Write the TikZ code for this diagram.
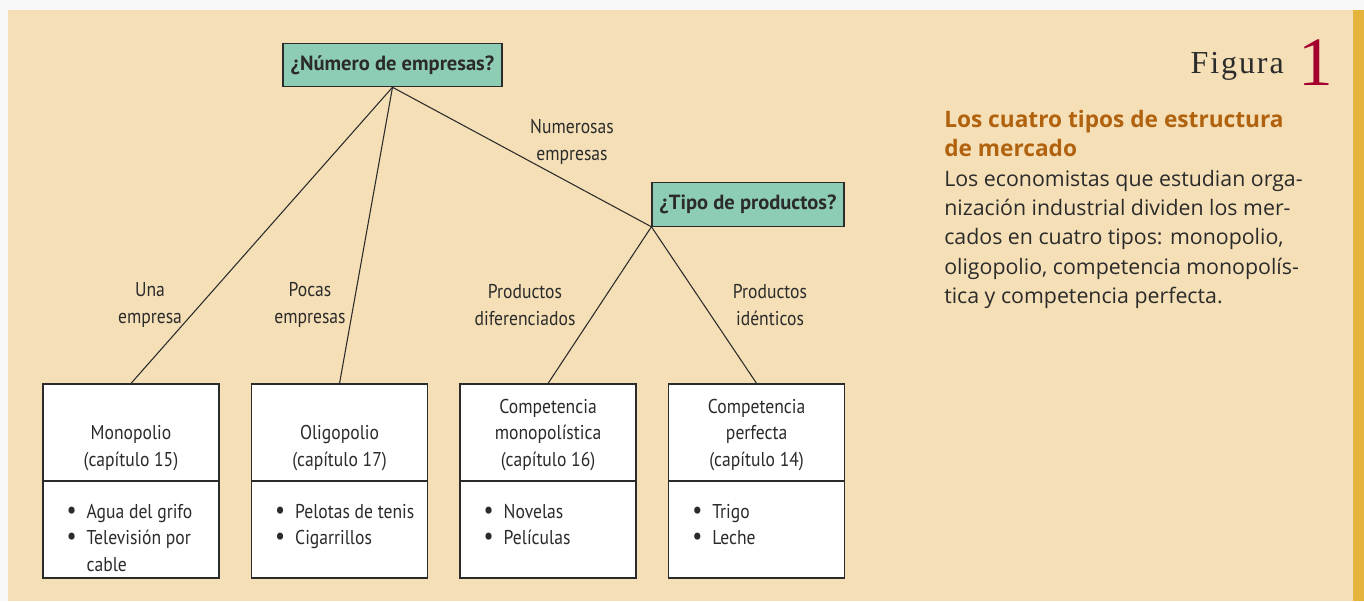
\documentclass[tikz,border=0pt]{standalone}
\usepackage{fontspec}
\setmainfont{PT Sans}
\newfontfamily\narrowfont[FakeStretch=0.88]{PT Sans}
\newfontfamily\bodyfont{Open Sans}
\newfontfamily\figfont[LetterSpace=6]{Liberation Serif}
\newfontfamily\numfont{Liberation Serif}
\usepackage{xcolor}
\usepackage{tikz}
\usetikzlibrary{positioning}
\definecolor{paper}{HTML}{F8F8F8}
\definecolor{beige}{HTML}{F5DFB6}
\definecolor{qteal}{HTML}{8DCDB4}
\definecolor{barorange}{HTML}{E4B43C}
\definecolor{headbrown}{HTML}{B1620F}
\definecolor{crimson}{HTML}{A4002F}
\definecolor{ink}{HTML}{2B2B2B}
\newcommand{\bul}{\makebox[15pt][l]{\fontsize{19}{19}\selectfont\textbullet}}

\begin{document}
\begin{tikzpicture}[x=0.75pt,y=-0.75pt,
  q/.style={draw=ink,fill=qteal,line width=0.9pt,minimum width=#1,minimum height=32.5pt,inner sep=0pt,
    text=ink,font=\bfseries\fontsize{15.4}{18}\selectfont},
  mkt/.style={draw=ink,fill=white,line width=0.9pt,minimum width=132pt,minimum height=145.5pt,inner sep=0pt},
  lbl/.style={align=center,text=ink,font=\narrowfont\fontsize{15}{20}\selectfont},
  items/.style={align=left,inner sep=0pt,anchor=north west,text=ink,font=\narrowfont\fontsize{15}{20}\selectfont},
  conn/.style={line width=0.8pt,ink}]
  \useasboundingbox (0,0) rectangle (1364,601);
  \fill[paper] (0,0) rectangle (1364,601);
  \fill[beige] (8,10) rectangle (1353,601);
  \fill[barorange] (1353,10) rectangle (1364,601);

  \node[q=164.25pt] (numero) at (392.5,65) {¿Número de empresas?};
  \node[q=144pt] (tipo) at (748,204.5) {¿Tipo de productos?};

  \node[mkt] (mono) at (131,481) {};
  \node[mkt,right=23.5pt of mono] (oligo) {};
  \node[mkt,right=23.5pt of oligo] (cmono) {};
  \node[mkt,right=23.5pt of cmono] (cperf) {};
  \foreach \b in {mono,oligo,cmono,cperf}
    \draw[line width=0.9pt,ink] (\b.west) -- (\b.east);

  \node[lbl,anchor=south,inner sep=0pt] (mononame) at ([yshift=7.5pt]mono.center) {Monopolio\\(capítulo 15)};
  \node[lbl,anchor=south,inner sep=0pt] (oligoname) at ([yshift=7.5pt]oligo.center) {Oligopolio\\(capítulo 17)};
  \node[lbl,anchor=south,inner sep=0pt] (cmononame) at ([yshift=7.5pt]cmono.center) {Competencia\\monopolística\\(capítulo 16)};
  \node[lbl,anchor=south,inner sep=0pt] (cperfname) at ([yshift=7.5pt]cperf.center) {Competencia\\perfecta\\(capítulo 14)};

  \node[items] (monoitems) at ([xshift=18pt,yshift=-17pt]mono.west) {\bul Agua del grifo\\\bul Televisión por\\\hspace*{15pt}cable};
  \node[items] (oligoitems) at ([xshift=18pt,yshift=-17pt]oligo.west) {\bul Pelotas de tenis\\\bul Cigarrillos};
  \node[items] (cmonoitems) at ([xshift=18pt,yshift=-17pt]cmono.west) {\bul Novelas\\\bul Películas};
  \node[items] (cperfitems) at ([xshift=18pt,yshift=-17pt]cperf.west) {\bul Trigo\\\bul Leche};

  \draw[conn] (numero.south) -- (mono.north);
  \draw[conn] (numero.south) -- (oligo.north);
  \draw[conn] (numero.south) -- (tipo.south west);
  \draw[conn] (tipo.south west) -- (cmono.north);
  \draw[conn] (tipo.south west) -- (cperf.north);

  \node[lbl] (una) at (150,305) {Una\\empresa};
  \node[lbl] (pocas) at (310,305) {Pocas\\empresas};
  \node[lbl] (numerosas) at (572,142) {Numerosas\\empresas};
  \node[lbl] (diferenciados) at (525,305) {Productos\\diferenciados};
  \node[lbl] (identicos) at (770,305) {Productos\\idénticos};

  \node[anchor=base east,inner sep=0pt,text=ink,font=\figfont\fontsize{24}{24}\selectfont] (figura) at (1284,73) {Figura};
  \node[anchor=base west,inner sep=0pt,text=crimson,font=\numfont\fontsize{52}{52}\selectfont] (fignum) at (1298,85) {1};

  \node[anchor=north west,inner sep=0pt,align=left,text=ink,font=\bodyfont\fontsize{16}{22}\selectfont] (caption) at (944,110)
    {\textcolor{headbrown}{\bfseries\fontsize{17}{22}\selectfont Los cuatro tipos de estructura}\\
     \textcolor{headbrown}{\bfseries\fontsize{17}{22}\selectfont de mercado}\\
     Los economistas que estudian orga-\\
     nización industrial dividen los mer-\\
     cados en cuatro tipos: monopolio,\\
     oligopolio, competencia monopolís-\\
     tica y competencia perfecta.};
\end{tikzpicture}
\end{document}
